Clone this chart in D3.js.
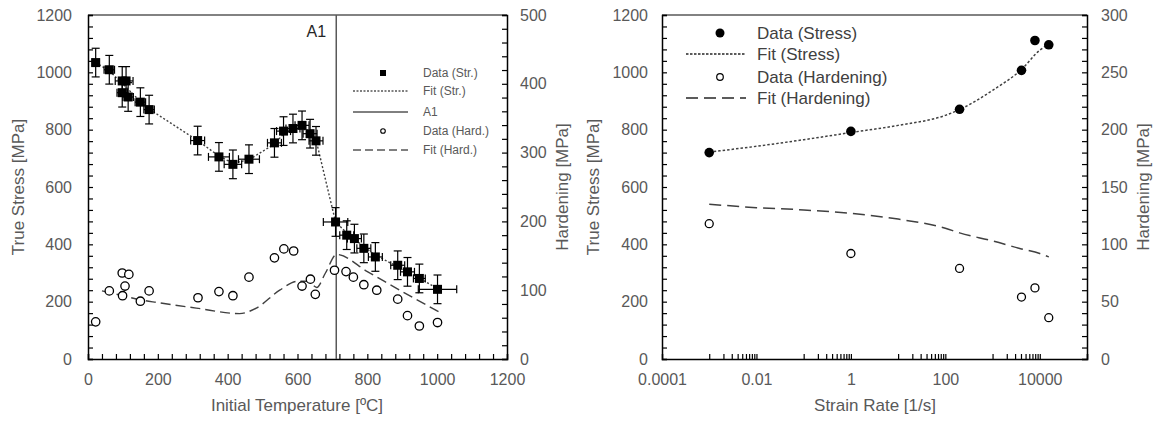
<!DOCTYPE html>
<html>
<head>
<meta charset="utf-8">
<script src="https://cdn.jsdelivr.net/npm/d3@7"></script>
<style>
  body { margin: 0; background: #fff; }
  svg { font-family: "Liberation Sans", Arial, sans-serif; }
  .tick text { fill: #595959; }
</style>
</head>
<body>
<svg id="chart" width="1155" height="421"></svg>
<script>
// ---- left panel: temperature ----
var tempStress = [22, 61, 98, 109, 98, 115, 150, 175, 314, 375, 415, 461, 534, 560, 587, 613, 636, 653, 709, 741, 763, 790, 823, 887, 915, 949, 1001];
var stress     = [1034, 1009, 970, 970, 929, 914, 896, 870, 762, 705, 679, 697, 754, 795, 804, 815, 786, 761, 478, 432, 420, 386, 356, 327, 304, 281, 243];
var tempErr    = [10, 15, 20, 20, 15, 15, 15, 15, 20, 30, 25, 30, 20, 20, 20, 20, 20, 20, 35, 20, 20, 20, 20, 20, 20, 17, 55];
var stressErr  = 50; // same +/- for every point

var tempHard = [22, 61, 98, 117, 106, 99, 150, 175, 315, 375, 415, 461, 534, 561, 589, 613, 637, 651, 706, 739, 760, 790, 827, 887, 915, 949, 1001];
var hard     = [54, 99, 125, 123, 106, 92, 84, 99, 89, 98, 92, 119, 147, 160, 157, 106, 116, 94, 129, 127, 119, 108, 100, 87, 63, 48, 53];

var fitStrTemp = [22, 61, 98, 150, 175, 314, 375, 415, 461, 534, 560, 587, 613, 636, 653, 709, 741, 790, 823, 887, 949, 1001];
var fitStr     = [1034, 1005, 962, 898, 872, 762, 708, 683, 695, 750, 785, 800, 805, 790, 765, 478, 440, 392, 362, 322, 282, 245];

var fitHardTemp = [40, 100, 150, 200, 310, 434, 482, 549, 600, 630, 655, 680, 712, 800, 900, 1010];
var fitHard     = [99, 92, 86, 82, 74, 66, 74, 100, 113, 113, 104, 125, 152, 127, 98, 67];

var A1 = 711;

var tempTicks = [0, 200, 400, 600, 800, 1000, 1200];
var stressTicks = [0, 200, 400, 600, 800, 1000, 1200];
var hardTicksL = [0, 100, 200, 300, 400, 500];

// ---- right panel: strain rate ----
var rate       = [0.001, 1, 200, 4100, 7900, 15500];
var rateStress = [720, 794, 871, 1007, 1111, 1096];
var rateHard   = [118, 92, 79, 54, 62, 36];

var fitRate       = [0.001, 0.01, 0.1, 1, 10, 100, 200, 1000, 4100, 10000, 15500];
var fitRateStress = [722, 742, 765, 790, 815, 850, 870, 937, 1010, 1077, 1098];
var fitRateHard   = [135, 132, 130, 127, 122, 114, 110, 103, 96, 92, 89];

var rateTicks = [0.0001, 0.01, 1, 100, 10000];
var rateTickLabels = ["0.0001", "0.01", "1", "100", "10000"];
var hardTicksR = [0, 50, 100, 150, 200, 250, 300];

var svg = d3.select("#chart");
var TEXT = "#595959";

// helper: axis with labels only + another with small inside ticks
function drawAxis(g, axisFn, scale, labelVals, minorVals, pad, fmt) {
  var lab = axisFn(scale).tickValues(labelVals).tickSize(0).tickPadding(pad)
    .tickFormat(fmt || d3.format("d"));
  g.append("g").call(lab).call(function(s) {
    s.select(".domain").remove();
    s.selectAll("text").style("font-size", "16px");
  });
  var minor = axisFn(scale).tickValues(minorVals).tickSize(-5).tickFormat("");
  g.append("g").call(minor).call(function(s) {
    s.select(".domain").attr("stroke", "#000").attr("stroke-width", 1.5);
    s.selectAll("line").attr("stroke", "#000").attr("stroke-width", 1.2);
  });
}

function title(x, y, txt, rot) {
  svg.append("text")
    .attr("transform", "translate(" + x + "," + y + ")" + (rot ? " rotate(-90)" : ""))
    .attr("text-anchor", "middle")
    .attr("dy", "0.35em")
    .attr("fill", TEXT)
    .style("font-size", "17px")
    .text(txt);
}

function errBars(g, data, x, y) {
  var cap = 4;
  data.forEach(function(d) {
    var cx = x(d.t), cy = y(d.s);
    var x0 = x(d.t - d.et), x1 = x(d.t + d.et);
    var y0 = y(d.s - stressErr), y1 = y(d.s + stressErr);
    g.append("line").attr("x1", x0).attr("x2", x1).attr("y1", cy).attr("y2", cy);
    g.append("line").attr("x1", x0).attr("x2", x0).attr("y1", cy - cap).attr("y2", cy + cap);
    g.append("line").attr("x1", x1).attr("x2", x1).attr("y1", cy - cap).attr("y2", cy + cap);
    g.append("line").attr("x1", cx).attr("x2", cx).attr("y1", y0).attr("y2", y1);
    g.append("line").attr("x1", cx - cap).attr("x2", cx + cap).attr("y1", y0).attr("y2", y0);
    g.append("line").attr("x1", cx - cap).attr("x2", cx + cap).attr("y1", y1).attr("y2", y1);
  });
  g.selectAll("line").attr("stroke", "#000").attr("stroke-width", 1.2);
}

// ================= LEFT PANEL =================
(function() {
  var L = 88, R = 507, T = 15, B = 359;
  var x = d3.scaleLinear().domain([0, 1200]).range([L, R]);
  var y = d3.scaleLinear().domain([0, 1200]).range([B, T]);
  var y2 = d3.scaleLinear().domain([0, 500]).range([B, T]);

  // top frame line
  svg.append("line").attr("x1", L).attr("x2", R).attr("y1", T).attr("y2", T)
    .attr("stroke", "#595959").attr("stroke-width", 1.5);

  drawAxis(svg.append("g").attr("transform", "translate(0," + B + ")"), d3.axisBottom, x, tempTicks, d3.range(0, 1201, 40), 15);
  drawAxis(svg.append("g").attr("transform", "translate(" + L + ",0)"), d3.axisLeft, y, stressTicks, d3.range(0, 1201, 40), 16);
  drawAxis(svg.append("g").attr("transform", "translate(" + R + ",0)"), d3.axisRight, y2, hardTicksL, d3.range(0, 501, 20), 13);

  // A1 line
  svg.append("line").attr("x1", x(A1)).attr("x2", x(A1)).attr("y1", T).attr("y2", B)
    .attr("stroke", "#595959").attr("stroke-width", 1.5);
  svg.append("text").attr("x", x(A1) - 20).attr("y", 37).attr("text-anchor", "middle")
    .attr("fill", "#262626").style("font-size", "16px").text("A1");

  // fits
  var fitS = fitStrTemp.map(function(t, i) { return [t, fitStr[i]]; });
  svg.append("path").datum(fitS)
    .attr("d", d3.line().x(function(d) { return x(d[0]); }).y(function(d) { return y(d[1]); }))
    .attr("fill", "none").attr("stroke", "#404040").attr("stroke-width", 1.4).attr("stroke-dasharray", "2,2");

  var fitH = fitHardTemp.map(function(t, i) { return [t, fitHard[i]]; });
  svg.append("path").datum(fitH)
    .attr("d", d3.line().curve(d3.curveMonotoneX).x(function(d) { return x(d[0]); }).y(function(d) { return y2(d[1]); }))
    .attr("fill", "none").attr("stroke", "#404040").attr("stroke-width", 1.4).attr("stroke-dasharray", "10,5");

  // hardening circles
  svg.selectAll(".hcirc").data(tempHard).enter().append("circle")
    .attr("cx", function(d) { return x(d); })
    .attr("cy", function(d, i) { return y2(hard[i]); })
    .attr("r", 4.2).attr("fill", "#fff").attr("stroke", "#000").attr("stroke-width", 1.3);

  // stress data w/ error bars
  var sdata = tempStress.map(function(t, i) { return {t: t, s: stress[i], et: tempErr[i]}; });
  errBars(svg.append("g"), sdata, x, y);
  svg.selectAll(".sq").data(sdata).enter().append("rect")
    .attr("x", function(d) { return x(d.t) - 4.5; })
    .attr("y", function(d) { return y(d.s) - 4.5; })
    .attr("width", 9).attr("height", 9).attr("fill", "#000");

  // legend
  var lg = svg.append("g");
  var rows = [
    {label: "Data (Str.)", y: 73, type: "sq"},
    {label: "Fit (Str.)", y: 91, type: "dot"},
    {label: "A1", y: 112, type: "solid"},
    {label: "Data (Hard.)", y: 131, type: "circ"},
    {label: "Fit (Hard.)", y: 150, type: "dash"}
  ];
  rows.forEach(function(r) {
    if (r.type == "sq") {
      lg.append("rect").attr("x", 380).attr("y", r.y - 3).attr("width", 6).attr("height", 6).attr("fill", "#000");
    } else if (r.type == "circ") {
      lg.append("circle").attr("cx", 383).attr("cy", r.y).attr("r", 2.3).attr("fill", "#fff").attr("stroke", "#000").attr("stroke-width", 1.1);
    } else {
      var ln = lg.append("line").attr("x1", 353).attr("x2", 408).attr("y1", r.y).attr("y2", r.y)
        .attr("stroke", "#000").attr("stroke-width", 1);
      if (r.type == "dot") ln.attr("stroke-dasharray", "2,1.5");
      if (r.type == "dash") ln.attr("stroke-dasharray", "8,4");
    }
    lg.append("text").attr("x", 423).attr("y", r.y).attr("dy", "0.35em")
      .attr("fill", TEXT).style("font-size", "12px").text(r.label);
  });

  title(18, 187, "True Stress [MPa]", true);
  title(562, 187, "Hardening [MPa]", true);
  title(297, 405, "Initial Temperature [ºC]", false);
})();

// ================= RIGHT PANEL =================
(function() {
  var L = 662, R = 1087, T = 15, B = 359;
  var x = d3.scaleLog().domain([1e-4, 1e5]).range([L, R]);
  var y = d3.scaleLinear().domain([0, 1200]).range([B, T]);
  var y2 = d3.scaleLinear().domain([0, 300]).range([B, T]);

  svg.append("line").attr("x1", L).attr("x2", R).attr("y1", T).attr("y2", T)
    .attr("stroke", "#595959").attr("stroke-width", 1.5);

  // minor log ticks only in the odd decades (like the original)
  var minorRate = x.ticks().filter(function(d) {
    var e = Math.floor(Math.log10(d) + 1e-9);
    return Math.abs(e % 2) == 1;
  }).concat([0.01, 1, 100, 10000]);

  drawAxis(svg.append("g").attr("transform", "translate(0," + B + ")"), d3.axisBottom, x, rateTicks, minorRate, 15,
    function(d, i) { return rateTickLabels[i]; });
  drawAxis(svg.append("g").attr("transform", "translate(" + L + ",0)"), d3.axisLeft, y, stressTicks, d3.range(0, 1201, 40), 14);
  drawAxis(svg.append("g").attr("transform", "translate(" + R + ",0)"), d3.axisRight, y2, hardTicksR, d3.range(0, 301, 10), 14);

  var line = d3.line().curve(d3.curveMonotoneX);

  svg.append("path")
    .datum(fitRate.map(function(r, i) { return [x(r), y(fitRateStress[i])]; }))
    .attr("d", line)
    .attr("fill", "none").attr("stroke", "#404040").attr("stroke-width", 1.5).attr("stroke-dasharray", "2.5,2");

  svg.append("path")
    .datum(fitRate.map(function(r, i) { return [x(r), y2(fitRateHard[i])]; }))
    .attr("d", line)
    .attr("fill", "none").attr("stroke", "#404040").attr("stroke-width", 1.5).attr("stroke-dasharray", "12,6");

  svg.selectAll(".rs").data(rate).enter().append("circle")
    .attr("cx", function(d) { return x(d); })
    .attr("cy", function(d, i) { return y(rateStress[i]); })
    .attr("r", 4.8).attr("fill", "#000");

  svg.selectAll(".rh").data(rate).enter().append("circle")
    .attr("cx", function(d) { return x(d); })
    .attr("cy", function(d, i) { return y2(rateHard[i]); })
    .attr("r", 4).attr("fill", "#fff").attr("stroke", "#000").attr("stroke-width", 1.3);

  // legend
  var lg = svg.append("g");
  var rows = [
    {label: "Data (Stress)", y: 33, type: "fill"},
    {label: "Fit (Stress)", y: 54, type: "dot"},
    {label: "Data (Hardening)", y: 77, type: "open"},
    {label: "Fit (Hardening)", y: 98, type: "dash"}
  ];
  rows.forEach(function(r) {
    if (r.type == "fill") {
      lg.append("circle").attr("cx", 720).attr("cy", r.y).attr("r", 4.5).attr("fill", "#000");
    } else if (r.type == "open") {
      lg.append("circle").attr("cx", 720).attr("cy", r.y).attr("r", 3.3).attr("fill", "#fff").attr("stroke", "#000").attr("stroke-width", 1.2);
    } else {
      var ln = lg.append("line").attr("x1", 686).attr("x2", 746).attr("y1", r.y).attr("y2", r.y)
        .attr("stroke", "#262626").attr("stroke-width", 1.5);
      if (r.type == "dot") ln.attr("stroke-dasharray", "2.5,1.5");
      if (r.type == "dash") ln.attr("stroke-dasharray", "12,6");
    }
    lg.append("text").attr("x", 757).attr("y", r.y).attr("dy", "0.35em")
      .attr("fill", "#404040").style("font-size", "17px").text(r.label);
  });

  title(593, 187, "True Stress [MPa]", true);
  title(1143, 187, "Hardening [MPa]", true);
  title(875, 405, "Strain Rate [1/s]", false);
})();
</script>
</body>
</html>
